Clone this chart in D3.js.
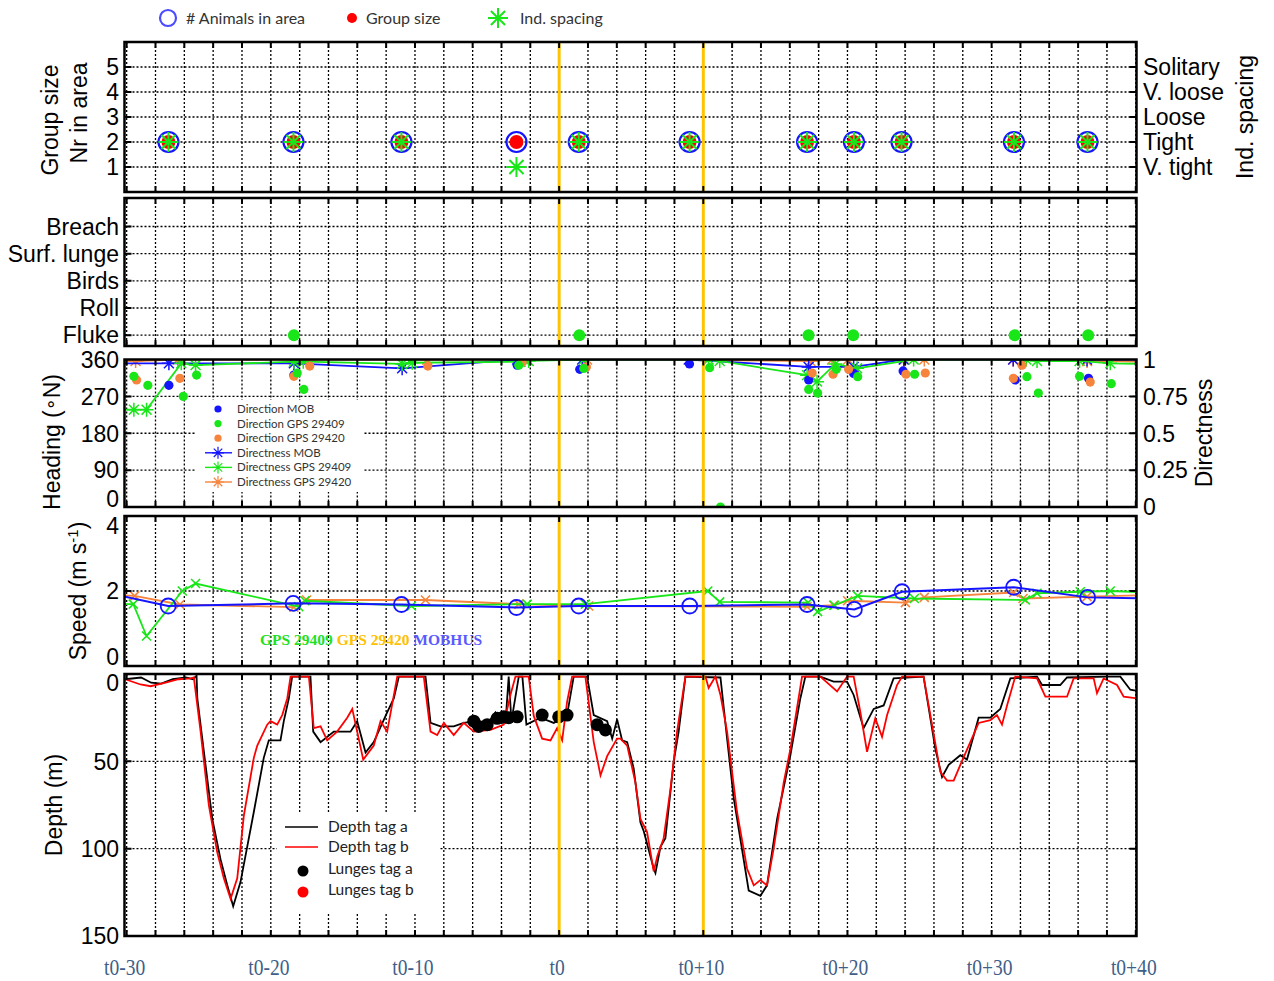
<!DOCTYPE html>
<html>
<head>
<meta charset="utf-8">
<script src="https://cdn.jsdelivr.net/npm/d3@7"></script>
<style>
  body { margin: 0; background: #fff; }
</style>
</head>
<body>
<svg width="1274" height="981" font-family="Liberation Sans, Arial, sans-serif"></svg>
<script>
// ---- data (time in minutes relative to t0) ----
const xTickLabels = ["t0-30", "t0-20", "t0-10", "t0", "t0+10", "t0+20", "t0+30", "t0+40"];
const xTickTimes = [-30, -20, -10, 0, 10, 20, 30, 40];
const markTimes = [0, 10];

// panel 1: group observations
const obsTime = [-27.1, -18.43, -10.94, -2.96, 1.36, 9.05, 17.2, 20.45, 23.75, 31.55, 36.65];
const nrInArea = [2, 2, 2, 2, 2, 2, 2, 2, 2, 2, 2];
const groupSize = [2, 2, 2, 2, 2, 2, 2, 2, 2, 2, 2];
const indSpacing = [2, 2, 2, 1, 2, 2, 2, 2, 2, 2, 2];
const spacingLabels = ["V. tight", "Tight", "Loose", "V. loose", "Solitary"];

// panel 2: behaviour
const behaviourLabels = ["Fluke", "Roll", "Birds", "Surf. lunge", "Breach"];
const flukeTimes = [-18.4, 1.4, 17.3, 20.4, 31.6, 36.7];

// panel 3: heading (deg)
const dirMOB = [[-27.07, 297], [-18.4, 322], [-2.91, 346], [1.43, 336], [9.04, 349], [17.31, 310],
  [20.43, 326], [23.86, 332], [31.64, 310], [36.72, 314]];
const dir29409 = [[-29.5, 319], [-28.53, 297], [-26.07, 270], [-25.15, 322], [-18.17, 327], [-17.71, 287],
  [-10.19, 359], [-2.8, 346], [1.71, 338], [10.44, 340], [11.19, 0], [17.31, 287], [17.93, 278],
  [19.23, 336], [20.71, 318], [24.66, 324], [32.45, 318], [33.24, 278], [36.1, 319], [38.3, 301]];
const dir29420 = [[-29.31, 310], [-26.31, 314], [-18.4, 319], [-17.3, 344], [-9.11, 344], [-2.57, 353],
  [1.89, 342], [17.55, 327], [19.0, 324], [20.08, 336], [24.06, 324], [25.4, 327], [31.51, 314],
  [32.11, 346], [36.84, 305]];

// panel 3: directness (0-1); first/last points lie outside the window
const dnsMOB = [[-31, 0.974], [-27.07, 0.974], [-18.4, 0.974], [-10.89, 0.94], [-2.91, 1.0], [1.6, 1.0],
  [8.99, 1.0], [17.31, 0.95], [20.43, 0.95], [23.9, 1.0], [31.5, 1.0], [36.62, 1.0], [41, 1.0]];
const dns29409 = [[-31, 0.66], [-29.5, 0.66], [-28.62, 0.66], [-26.21, 0.974], [-25.22, 0.962],
  [-18.4, 0.985], [-17.75, 0.985], [-10.89, 0.97], [-10.19, 0.978], [-2.68, 0.985], [-2.11, 0.99],
  [1.71, 1.0], [10.37, 1.0], [11.14, 0.99], [17.2, 0.894], [17.89, 0.85], [19.16, 0.97], [20.67, 0.94],
  [24.59, 1.0], [32.41, 1.0], [33.15, 0.99], [36.1, 0.99], [38.23, 0.974], [41, 0.97]];
const dns29420 = [[-31, 0.99], [-29.38, 0.99], [-26.45, 1.0], [-18.4, 1.0], [-17.43, 1.0], [-9.15, 1.0],
  [-2.45, 1.0], [1.94, 1.0], [17.43, 0.99], [18.93, 1.0], [20.04, 1.0], [23.95, 1.0], [25.33, 1.0],
  [31.48, 1.0], [36.62, 0.99], [41, 0.985]];

// panel 4: speed (m/s)
const spdMOB = [[-31, 1.92], [-27.12, 1.6], [-18.45, 1.67], [-10.94, 1.64], [-2.96, 1.56], [1.36, 1.6],
  [9.06, 1.6], [17.2, 1.64], [20.48, 1.51], [23.79, 1.98], [31.53, 2.1], [36.66, 1.83], [41, 1.8]];
const spd29409 = [[-31, 1.65], [-29.54, 1.65], [-28.62, 0.8], [-26.14, 2.0], [-25.22, 2.2], [-18.06, 1.58],
  [-17.64, 1.74], [-10.24, 1.6], [-2.22, 1.65], [1.82, 1.65], [10.31, 2.0], [11.14, 1.71], [17.27, 1.69],
  [17.93, 1.45], [19.09, 1.62], [20.71, 1.87], [24.64, 1.8], [32.34, 1.76], [33.15, 1.94], [36.15, 1.98],
  [38.23, 2.0], [41, 1.96]];
const spd29420 = [[-31, 1.9], [-29.45, 1.87], [-26.31, 1.64], [-18.4, 1.57], [-17.52, 1.76], [-9.27, 1.76],
  [-2.8, 1.65], [2.05, 1.6], [17.2, 1.58], [19.04, 1.62], [20.01, 1.74], [24.02, 1.69], [25.33, 1.83],
  [31.53, 1.96], [32.18, 1.8], [36.62, 1.85], [41, 1.89]];

// panel 5: depth (m)
const depthA = [[-30.1, 3], [-29.0, 2], [-28.3, 5], [-27.6, 5.5], [-26.8, 3], [-25.9, 2], [-25.4, 3], [-25.15, 1],
  [-25.1, 14], [-24.53, 52], [-24.06, 83], [-23.49, 106], [-23.02, 121], [-22.61, 133],
  [-22.1, 119], [-21.18, 79], [-20.49, 48], [-20.14, 38], [-19.33, 38], [-19.1, 27], [-18.75, 14], [-18.52, 1.5],
  [-17.25, 1.5], [-17.06, 33], [-16.55, 39], [-15.63, 33], [-14.47, 33], [-14.01, 27], [-13.43, 45], [-12.86, 39],
  [-11.93, 22], [-11.47, 14], [-11.12, 1.5], [-9.27, 1.5], [-8.92, 28], [-8.23, 30], [-7.31, 30], [-6.62, 28],
  [-5.8, 27], [-5.11, 30], [-4.42, 22], [-4.07, 28], [-3.72, 28], [-3.5, 1.5], [-3.31, 27], [-2.8, 1.5],
  [-2.55, 1.5], [-2.27, 29], [-1.3, 25], [-0.37, 28], [0.55, 23.5], [1.01, 1.5], [1.94, 1.5], [2.4, 23.5],
  [3.33, 27], [3.68, 37], [4.02, 26], [4.37, 38], [4.72, 39], [5.17, 54], [5.64, 85], [5.87, 90], [6.56, 111.5],
  [6.68, 114], [7.03, 99], [7.37, 94], [7.95, 50], [8.29, 33], [8.76, 1.5], [11.19, 2], [11.65, 37], [12.11, 71],
  [13.15, 124], [13.96, 127], [14.42, 121], [15.12, 83], [16.04, 46.5], [16.73, 14], [17.08, 1.5], [18.12, 1.5],
  [19.04, 4.4], [19.97, 4.4], [20.43, 12], [21.12, 31], [21.82, 20], [22.51, 18], [23.2, 2.5], [25.28, 1.5],
  [26.1, 43], [26.56, 59], [27.02, 52], [27.83, 46.5], [28.29, 49], [29.1, 25], [29.91, 25], [30.6, 20],
  [31.3, 2.5], [33.15, 1.5], [33.5, 6.3], [34.76, 6.3], [35.23, 2], [38.0, 1.5], [38.93, 1.5], [39.62, 9], [40.1, 9.7]];
const depthB = [[-30.1, 3], [-29.04, 6], [-28.34, 7], [-27.3, 5], [-26.4, 3], [-25.56, 2.5], [-25.34, 2],
  [-24.87, 33], [-24.3, 75], [-23.72, 102], [-23.26, 117], [-22.79, 128.7], [-22.33, 117], [-21.87, 81],
  [-21.18, 48], [-20.94, 41], [-20.25, 29], [-20.02, 27], [-19.56, 29], [-19.21, 23.5], [-18.86, 14], [-18.63, 1.5],
  [-17.36, 1.5], [-17.02, 31], [-16.55, 30], [-16.09, 38], [-15.4, 33], [-14.7, 25], [-14.35, 20], [-14.01, 33],
  [-13.59, 49], [-12.86, 41], [-12.39, 27], [-11.93, 33], [-11.23, 1.5], [-9.39, 1.5], [-8.92, 33], [-8.46, 35],
  [-8.0, 28], [-7.31, 35], [-6.62, 28], [-5.92, 33], [-4.76, 32], [-3.84, 29], [-3.38, 12], [-3.03, 1.5],
  [-2.11, 1.5], [-1.76, 24], [-1.18, 37], [-0.6, 38], [-0.14, 31], [0.21, 38], [0.55, 16], [0.9, 1.5], [1.82, 1.5],
  [2.4, 39], [2.87, 58], [3.33, 47], [4.02, 37], [4.25, 37], [4.72, 41], [5.29, 62], [5.64, 83], [6.1, 90.5],
  [6.56, 113], [6.82, 104], [7.25, 94], [7.72, 66], [8.18, 33], [8.76, 1.5], [10.15, 1.5], [10.37, 8], [10.84, 1.5],
  [11.19, 12], [11.65, 33], [12.34, 79], [13.04, 111.5], [13.5, 121], [13.96, 118], [14.42, 121], [14.88, 100],
  [15.58, 62], [16.04, 43], [16.85, 1.5], [18.12, 1.5], [19.28, 10], [19.97, 1.5], [20.43, 1.5], [20.89, 21.6],
  [21.36, 44.6], [21.93, 25.4], [22.4, 36], [22.75, 23.5], [23.44, 6.3], [23.79, 1.5], [25.28, 1.5], [25.75, 23.5],
  [26.44, 56], [26.91, 61], [27.37, 61], [27.83, 52], [28.52, 39], [29.1, 28], [29.91, 26.4], [30.37, 23.5],
  [30.72, 29], [31.07, 18], [31.64, 1.5], [33.15, 2.5], [33.73, 13], [35.23, 13], [35.69, 2.5], [37.08, 2.5],
  [37.31, 11], [37.77, 2.5], [38.7, 6.3], [39.16, 13], [40.1, 14]];
const lungesA = [[-5.92, 27], [-5.58, 30], [-4.99, 29], [-4.3, 25.4], [-3.84, 24.5], [-3.5, 25], [-2.91, 24.5],
  [-1.18, 23.5], [-0.03, 24.5], [0.55, 23.5], [2.64, 29], [3.21, 32]];
const lungesB = [];

// ---- colours ----
const BLUE = "#1414ff", GREEN = "#19e619", ORANGE = "#f6843c", RED = "#ff0000", GOLD = "#ffc400";
const LEGEND_FONT = "Lato, 'Open Sans', sans-serif";

const svg = d3.select("svg");
const x = d3.scaleLinear().domain([-30.15, 40.05]).range([124.5, 1136.5]);
const gridTimes = d3.range(-30, 41, 2);

function starPath(r) {
  const a = r * 0.7071;
  return `M${-r},0H${r}M0,${-r}V${r}M${-a},${-a}L${a},${a}M${-a},${a}L${a},${-a}`;
}
function crossPath(r) {
  return `M${-r},${-r}L${r},${r}M${-r},${r}L${r},${-r}`;
}

// panel frame: grid, ticks, clip
function makePanel(id, top, bottom, yGrid) {
  const left = x.range()[0], right = x.range()[1];
  svg.append("clipPath").attr("id", "clip" + id)
    .append("rect").attr("x", left).attr("y", top).attr("width", right - left).attr("height", bottom - top);
  const grid = svg.append("g");
  grid.selectAll(".vg").data(gridTimes).join("line")
    .attr("x1", d => x(d)).attr("x2", d => x(d)).attr("y1", top).attr("y2", bottom)
    .attr("stroke", "#000").attr("stroke-width", 1.3).attr("stroke-dasharray", "2,2");
  grid.selectAll(".hg").data(yGrid).join("line")
    .attr("x1", left).attr("x2", right).attr("y1", d => d).attr("y2", d => d)
    .attr("stroke", "#000").attr("stroke-width", 1.3).attr("stroke-dasharray", "2,2");
  const data = svg.append("g").attr("clip-path", `url(#clip${id})`);
  const frame = svg.append("g");
  const ticks = frame.append("g").attr("stroke", "#000").attr("stroke-width", 2);
  ticks.selectAll(".tt").data(gridTimes).join("path")
    .attr("d", d => `M${x(d)},${top}v6M${x(d)},${bottom}v-6`);
  ticks.selectAll(".yt").data(yGrid).join("path")
    .attr("d", d => `M${left},${d}h7M${right},${d}h-7`);
  frame.append("rect").attr("x", left).attr("y", top).attr("width", right - left).attr("height", bottom - top)
    .attr("fill", "none").attr("stroke", "#000").attr("stroke-width", 2.5);
  return { data, frame, top, bottom };
}

// y tick labels; shift nudges a label so neighbouring panels' end labels don't collide
function yLabels(values, scale, fmt, side, shift) {
  const xp = side === "left" ? 119 : 1143;
  svg.append("g").selectAll("text").data(values).join("text")
    .attr("x", xp).attr("y", d => scale(d) + (shift ? (shift[d] || 0) : 0)).attr("dy", "0.36em")
    .attr("text-anchor", side === "left" ? "end" : "start")
    .attr("font-size", 23).attr("fill", "#000")
    .text(fmt);
}

function yTitle(txt, xp, yc) {
  return svg.append("text")
    .attr("transform", `translate(${xp},${yc}) rotate(-90)`)
    .attr("text-anchor", "middle").attr("font-size", 23).attr("fill", "#000")
    .text(txt);
}

function drawYellow(p) {
  p.data.selectAll(null).data(markTimes).join("line")
    .attr("x1", d => x(d)).attr("x2", d => x(d)).attr("y1", p.top).attr("y2", p.bottom)
    .attr("stroke", GOLD).attr("stroke-width", 3);
}

// ---------- panel 1 ----------
const y1 = d3.scaleLinear().domain([0, 6]).range([192, 42]);
const p1 = makePanel(1, 42, 192, [1, 2, 3, 4, 5].map(y1));
drawYellow(p1);
p1.data.selectAll(".c").data(obsTime).join("circle")
  .attr("cx", d => x(d)).attr("cy", (d, i) => y1(nrInArea[i])).attr("r", 10)
  .attr("fill", "none").attr("stroke", BLUE).attr("stroke-width", 2.2);
p1.data.selectAll(".g").data(obsTime).join("circle")
  .attr("cx", d => x(d)).attr("cy", (d, i) => y1(groupSize[i])).attr("r", 7)
  .attr("fill", RED);
p1.data.selectAll(".s").data(obsTime).join("path")
  .attr("transform", (d, i) => `translate(${x(d)},${y1(indSpacing[i])})`)
  .attr("d", starPath(10)).attr("fill", "none").attr("stroke", GREEN).attr("stroke-width", 2);
yLabels([1, 2, 3, 4, 5], y1, d => d, "left");
yLabels([1, 2, 3, 4, 5], y1, d => spacingLabels[d - 1], "right");
yTitle("Group size", 58, 120);
yTitle("Nr in area", 87, 113);
yTitle("Ind. spacing", 1253, 117);

// ---------- panel 2 ----------
const y2 = d3.scaleLinear().domain([0.6, 6.05]).range([346, 198]);
const p2 = makePanel(2, 198, 346, [1, 2, 3, 4, 5].map(y2));
drawYellow(p2);
p2.data.selectAll(".f").data(flukeTimes).join("circle")
  .attr("cx", d => x(d)).attr("cy", y2(1)).attr("r", 6).attr("fill", GREEN);
yLabels([1, 2, 3, 4, 5], y2, d => behaviourLabels[d - 1], "left");

// ---------- panel 3 ----------
const y3h = d3.scaleLinear().domain([0, 360]).range([507, 359.5]);
const y3d = d3.scaleLinear().domain([0, 1]).range([507, 359.5]);
const p3 = makePanel(3, 359.5, 507, [90, 180, 270].map(y3h));
const dLine = d3.line().x(d => x(d[0])).y(d => y3d(d[1]));
[[dns29420, ORANGE], [dnsMOB, BLUE], [dns29409, GREEN]].forEach(([s, c]) => {
  p3.data.append("path").datum(s).attr("d", dLine)
    .attr("fill", "none").attr("stroke", c).attr("stroke-width", 1.8);
  p3.data.selectAll(null).data(s.slice(1, -1)).join("path")
    .attr("transform", d => `translate(${x(d[0])},${y3d(d[1])})`)
    .attr("d", starPath(7)).attr("fill", "none").attr("stroke", c).attr("stroke-width", 1.5);
});
[[dirMOB, BLUE], [dir29420, ORANGE], [dir29409, GREEN]].forEach(([s, c]) => {
  p3.data.selectAll(null).data(s).join("circle")
    .attr("cx", d => x(d[0])).attr("cy", d => y3h(d[1])).attr("r", 4.6).attr("fill", c);
});
drawYellow(p3);
yLabels([0, 90, 180, 270, 360], y3h, d => d, "left", { 0: -8 });
yLabels([0, 0.25, 0.5, 0.75, 1], y3d, d => d, "right");
const hdT = svg.append("text")
  .attr("transform", "translate(59.5,442) rotate(-90)")
  .attr("text-anchor", "middle").attr("font-size", 23).attr("fill", "#000");
hdT.append("tspan").text("Heading (");
hdT.append("tspan").attr("font-family", "'DejaVu Sans', sans-serif").attr("font-size", 19).attr("dy", -3).text("\u2218");
hdT.append("tspan").attr("dy", 3).text("N)");
yTitle("Directness", 1212, 433);

// legend panel 3
const lg3 = svg.append("g");
lg3.append("rect").attr("x", 196).attr("y", 400).attr("width", 167).attr("height", 92).attr("fill", "#fff");
const lg3Items = [
  ["Direction MOB", BLUE, "dot"], ["Direction GPS 29409", GREEN, "dot"], ["Direction GPS 29420", ORANGE, "dot"],
  ["Directness MOB", BLUE, "line"], ["Directness GPS 29409", GREEN, "line"], ["Directness GPS 29420", ORANGE, "line"]];
lg3Items.forEach(([t, c, k], i) => {
  const yy = 409 + i * 14.6;
  if (k === "dot") {
    lg3.append("circle").attr("cx", 218).attr("cy", yy).attr("r", 3.6).attr("fill", c);
  } else {
    lg3.append("line").attr("x1", 205).attr("x2", 232).attr("y1", yy).attr("y2", yy)
      .attr("stroke", c).attr("stroke-width", 1.4);
    lg3.append("path").attr("transform", `translate(218,${yy})`).attr("d", starPath(6))
      .attr("fill", "none").attr("stroke", c).attr("stroke-width", 1.2);
  }
  lg3.append("text").attr("x", 237).attr("y", yy).attr("dy", "0.35em")
    .attr("font-family", LEGEND_FONT).attr("font-size", 11.5).attr("fill", "#333").text(t);
});

// ---------- panel 4 ----------
const y4 = d3.scaleLinear().domain([0, 4]).range([666, 516]);
const p4 = makePanel(4, 516, 666, [y4(2)]);
const sLine = d3.line().x(d => x(d[0])).y(d => y4(d[1]));
[[spd29420, ORANGE], [spd29409, GREEN]].forEach(([s, c]) => {
  p4.data.append("path").datum(s).attr("d", sLine)
    .attr("fill", "none").attr("stroke", c).attr("stroke-width", 1.8);
  p4.data.selectAll(null).data(s.slice(1, -1)).join("path")
    .attr("transform", d => `translate(${x(d[0])},${y4(d[1])})`)
    .attr("d", crossPath(4.5)).attr("fill", "none").attr("stroke", c).attr("stroke-width", 1.6);
});
p4.data.append("path").datum(spdMOB).attr("d", sLine)
  .attr("fill", "none").attr("stroke", BLUE).attr("stroke-width", 2);
p4.data.selectAll(null).data(spdMOB.slice(1, -1)).join("circle")
  .attr("cx", d => x(d[0])).attr("cy", d => y4(d[1])).attr("r", 7.5)
  .attr("fill", "none").attr("stroke", BLUE).attr("stroke-width", 1.8);
drawYellow(p4);
yLabels([0, 2, 4], y4, d => d, "left", { 0: -9, 4: 10 });
const spT = svg.append("text")
  .attr("transform", "translate(86,591) rotate(-90)")
  .attr("text-anchor", "middle").attr("font-size", 23).attr("fill", "#000");
spT.append("tspan").text("Speed (m s");
spT.append("tspan").attr("dy", -8).attr("font-size", 15).text("-1");
spT.append("tspan").attr("dy", 8).text(")");
const lg4 = svg.append("text").attr("x", 260).attr("y", 645)
  .attr("font-family", "'Liberation Serif', serif").attr("font-weight", "bold").attr("font-size", 15.5);
lg4.append("tspan").attr("fill", "#22e022").text("GPS 29409 ");
lg4.append("tspan").attr("fill", "#ffc000").text("GPS 29420 ");
lg4.append("tspan").attr("fill", "#5a5aff").text("MOBHUS");

// ---------- panel 5 ----------
const y5 = d3.scaleLinear().domain([0, 150]).range([674, 936]);
const p5 = makePanel(5, 674, 936, [50, 100].map(y5));
const zLine = d3.line().x(d => x(d[0])).y(d => y5(d[1]));
p5.data.append("path").datum(depthA).attr("d", zLine)
  .attr("fill", "none").attr("stroke", "#000").attr("stroke-width", 1.8);
p5.data.append("path").datum(depthB).attr("d", zLine)
  .attr("fill", "none").attr("stroke", RED).attr("stroke-width", 1.8);
p5.data.selectAll(null).data(lungesA).join("circle")
  .attr("cx", d => x(d[0])).attr("cy", d => y5(d[1])).attr("r", 6.5).attr("fill", "#000");
p5.data.selectAll(null).data(lungesB).join("circle")
  .attr("cx", d => x(d[0])).attr("cy", d => y5(d[1])).attr("r", 6.5).attr("fill", RED);
drawYellow(p5);
yLabels([0, 50, 100, 150], y5, d => d, "left", { 0: 9 });
yTitle("Depth (m)", 62, 805);

const lg5 = svg.append("g");
lg5.append("rect").attr("x", 277).attr("y", 812).attr("width", 163).attr("height", 100).attr("fill", "#fff");
[["Depth tag a", "#000", "line"], ["Depth tag b", RED, "line"], ["Lunges tag a", "#000", "dot"], ["Lunges tag b", RED, "dot"]]
  .forEach(([t, c, k], i) => {
    const yy = [827, 847, 869, 890][i];
    if (k === "line") {
      lg5.append("line").attr("x1", 285).attr("x2", 318).attr("y1", yy).attr("y2", yy)
        .attr("stroke", c).attr("stroke-width", 1.6);
    } else {
      lg5.append("circle").attr("cx", 303).attr("cy", yy + 2).attr("r", 5.5).attr("fill", c);
    }
    lg5.append("text").attr("x", 328).attr("y", yy).attr("dy", "0.35em")
      .attr("font-family", LEGEND_FONT).attr("font-size", 15.5).attr("fill", "#222").text(t);
  });

// ---------- x labels ----------
svg.append("g").selectAll("text").data(xTickTimes).join("text")
  .attr("transform", d => `translate(${x(d) - 2},975) scale(0.85,1)`)
  .attr("text-anchor", "middle")
  .attr("font-family", "'Liberation Serif', serif").attr("font-size", 23).attr("fill", "#3f5f88")
  .text((d, i) => xTickLabels[i]);

// ---------- top legend ----------
const lgT = svg.append("g").attr("font-family", LEGEND_FONT).attr("font-size", 16).attr("fill", "#333");
lgT.append("circle").attr("cx", 168).attr("cy", 18).attr("r", 8)
  .attr("fill", "none").attr("stroke", "#4b4bff").attr("stroke-width", 2.2);
lgT.append("text").attr("x", 186).attr("y", 18).attr("dy", "0.35em").text("# Animals in area");
lgT.append("circle").attr("cx", 352).attr("cy", 18).attr("r", 5).attr("fill", RED);
lgT.append("text").attr("x", 366).attr("y", 18).attr("dy", "0.35em").text("Group size");
lgT.append("path").attr("transform", "translate(498,18)").attr("d", starPath(10))
  .attr("fill", "none").attr("stroke", GREEN).attr("stroke-width", 2);
lgT.append("text").attr("x", 520).attr("y", 18).attr("dy", "0.35em").text("Ind. spacing");
</script>
</body>
</html>
